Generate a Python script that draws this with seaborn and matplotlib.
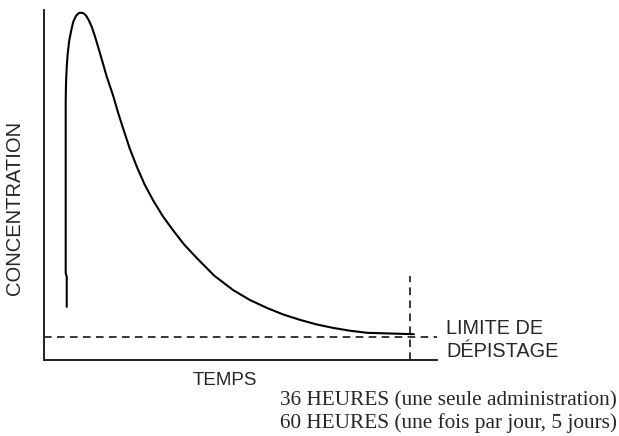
import matplotlib
matplotlib.use("Agg")
import matplotlib.pyplot as plt
import pandas as pd
import seaborn as sns

# curve (time and concentration in % of the axes)
temps = [5.78, 5.78, 5.52, 5.52, 5.52, 5.52, 5.60, 5.78, 6.03, 6.44, 6.95,
         7.46, 8.14, 8.83, 9.34, 10.0, 10.69, 11.37, 12.14, 12.98, 14.25,
         15.95, 17.6, 18.9, 20.1, 21.8, 23.6, 25.6, 27.7, 30.2, 32.8, 35.7,
         38.9, 43.3, 48.1, 52.3, 56.7, 60.9, 65.1, 69.3, 73.5, 77.8, 82.1,
         88.0, 94.1]
concentration = [15.3, 23.9, 24.9, 48.6, 68.6, 74.3, 79.2, 83.8, 87.6, 91.4,
                 94.3, 96.7, 98.3, 99.1, 99.2, 99.1, 98.4, 97.1, 95.2, 92.4,
                 87.6, 81.0, 75.5, 70.5, 66.3, 60.5, 55.3, 50.2, 45.8, 41.2,
                 37.2, 33.0, 29.2, 24.2, 20.1, 17.3, 15.0, 13.1, 11.6, 10.3,
                 9.3, 8.5, 7.9, 7.7, 7.5]
limite = 6.6
fin_temps = 93.0
fin_haut = 24.0

label_limite = ["LIMITE DE", "DÉPISTAGE"]
duree_1 = "36 HEURES (une seule administration)"
duree_2 = "60 HEURES (une fois par jour, 5 jours)"

sns.set_style("white")
plt.rcParams["font.family"] = ["Liberation Sans", "DejaVu Sans"]
serif = ["Liberation Serif", "DejaVu Serif"]

fig = plt.figure(figsize=(6.19, 4.36), dpi=100)
ax = fig.add_axes([0.0711, 0.1732, 0.635, 0.804])

df = pd.DataFrame({"temps": temps, "concentration": concentration})
sns.lineplot(data=df, x="temps", y="concentration", sort=False,
             estimator=None, color="black", linewidth=1.5, ax=ax)

ax.axhline(limite, color="black", linewidth=1.1, linestyle=(0, (5, 3.5)))
ax.plot([fin_temps, fin_temps], [0, fin_haut], color="black",
        linewidth=1.1, linestyle=(0, (5, 3.5)))

ax.set_xlim(0, 100)
ax.set_ylim(0, 100)
ax.set_xticks([])
ax.set_yticks([])
ax.set_xlabel("")
ax.set_ylabel("")
sns.despine(ax=ax)
for side in ["left", "bottom"]:
    ax.spines[side].set_color("#222222")
    ax.spines[side].set_linewidth(1.4)

fig.text(446 / 619, 1 - 329 / 436, label_limite[0], fontsize=14.3,
         ha="left", va="center")
fig.text(446 / 619, 1 - 351 / 436, label_limite[1], fontsize=14.3,
         ha="left", va="center")

fig.text(225 / 619, 1 - 380 / 436, "TEMPS", fontsize=13.5,
         ha="center", va="center")
fig.text(15 / 619, 1 - 208 / 436, "CONCENTRATION", fontsize=14.5,
         rotation=90, ha="center", va="center")

fig.text(280 / 619, 1 - 401 / 436, duree_1, fontsize=15.3, family=serif,
         ha="left", va="center")
fig.text(280 / 619, 1 - 423 / 436, duree_2, fontsize=15.3, family=serif,
         ha="left", va="center")

fig.savefig("out.png", dpi=100)
